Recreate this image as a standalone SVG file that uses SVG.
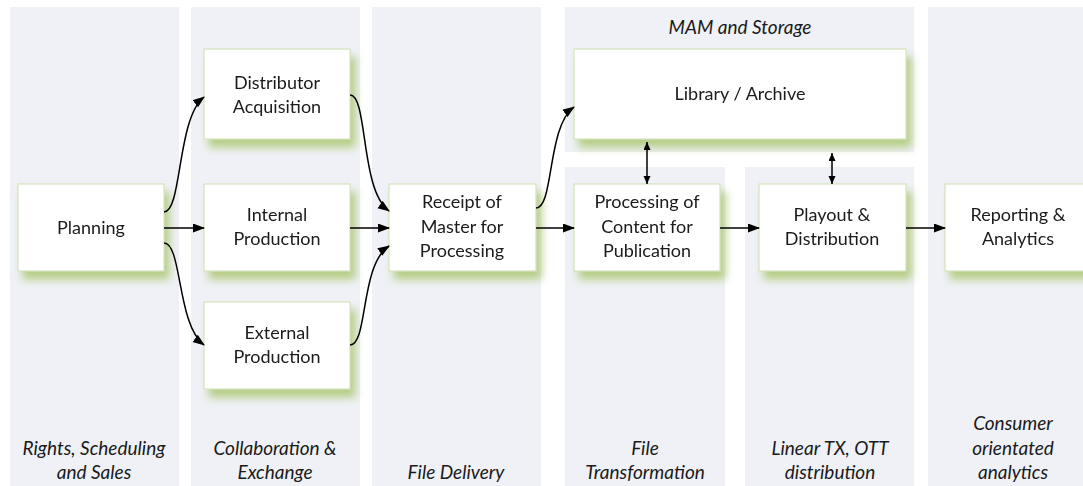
<svg xmlns="http://www.w3.org/2000/svg" width="1083" height="486" viewBox="0 0 1083 486">
<defs>
<style>
.lane{fill:#eff1f6}
.box{fill:#ffffff;stroke:#d6e3bc;stroke-width:1.2}
.t{font-family:Lato,"Open Sans","Liberation Sans",sans-serif;font-size:18px;fill:#1a1a1a;text-anchor:middle}
.lt{font-family:Lato,"Open Sans","Liberation Sans",sans-serif;font-size:19px;font-style:italic;fill:#1a1a1a;text-anchor:middle}
.c{fill:none;stroke:#000;stroke-width:1.5}
</style>
<filter id="sh" x="-20%" y="-20%" width="150%" height="160%">
<feGaussianBlur in="SourceAlpha" stdDeviation="4"/>
<feOffset dx="5" dy="8" result="b"/>
<feFlood flood-color="#b3cc80" flood-opacity="0.95"/>
<feComposite in2="b" operator="in" result="s"/>
<feMerge><feMergeNode in="s"/><feMergeNode in="SourceGraphic"/></feMerge>
</filter>
<marker id="a" markerWidth="12" markerHeight="10" refX="11" refY="4.5" orient="auto" markerUnits="userSpaceOnUse">
<path d="M0,0 L12,4.5 L0,9 z" fill="#000"/>
</marker>
<marker id="d" markerWidth="8" markerHeight="8" refX="8" refY="3.5" orient="auto-start-reverse" markerUnits="userSpaceOnUse">
<path d="M0,0 L8,3.5 L0,7 z" fill="#000"/>
</marker>
</defs>
<rect width="1083" height="486" fill="#ffffff"/>
<g id="lanes">
<rect class="lane" x="10" y="7" width="169" height="479"/>
<rect class="lane" x="191" y="7" width="169" height="479"/>
<rect class="lane" x="372" y="7" width="169" height="479"/>
<rect class="lane" x="565" y="7" width="349" height="145"/>
<rect class="lane" x="565" y="167" width="160" height="319"/>
<rect class="lane" x="745" y="167" width="169" height="319"/>
<rect class="lane" x="928" y="7" width="155" height="479"/>
</g>
<g id="lane-labels">
<text class="lt" x="94" y="455">Rights, Scheduling</text>
<text class="lt" x="94" y="479">and Sales</text>
<text class="lt" x="275" y="455">Collaboration &amp;</text>
<text class="lt" x="275" y="479">Exchange</text>
<text class="lt" x="456" y="479">File Delivery</text>
<text class="lt" x="645" y="455">File</text>
<text class="lt" x="645" y="479">Transformation</text>
<text class="lt" x="830" y="455">Linear TX, OTT</text>
<text class="lt" x="830" y="479">distribution</text>
<text class="lt" x="1013" y="430">Consumer</text>
<text class="lt" x="1013" y="455">orientated</text>
<text class="lt" x="1013" y="479">analytics</text>
<text class="lt" x="740" y="34">MAM and Storage</text>
</g>
<g id="planning" filter="url(#sh)">
<rect class="box" x="18" y="184" width="146" height="87"/>
<text class="t" x="91" y="234">Planning</text>
</g>
<g id="distributor" filter="url(#sh)">
<rect class="box" x="204" y="49" width="146" height="90"/>
<text class="t" x="277" y="89">Distributor</text>
<text class="t" x="277" y="113">Acquisition</text>
</g>
<g id="internal" filter="url(#sh)">
<rect class="box" x="204" y="184" width="146" height="87"/>
<text class="t" x="277" y="221">Internal</text>
<text class="t" x="277" y="245">Production</text>
</g>
<g id="external" filter="url(#sh)">
<rect class="box" x="204" y="302" width="146" height="87"/>
<text class="t" x="277" y="339">External</text>
<text class="t" x="277" y="363">Production</text>
</g>
<g id="receipt" filter="url(#sh)">
<rect class="box" x="389" y="184" width="147" height="87"/>
<text class="t" x="462" y="208">Receipt of</text>
<text class="t" x="462" y="233">Master for</text>
<text class="t" x="462" y="257">Processing</text>
</g>
<g id="library" filter="url(#sh)">
<rect class="box" x="574" y="49" width="332" height="90"/>
<text class="t" x="740" y="100">Library / Archive</text>
</g>
<g id="processing" filter="url(#sh)">
<rect class="box" x="574" y="184" width="146" height="87"/>
<text class="t" x="647" y="208">Processing of</text>
<text class="t" x="647" y="233">Content for</text>
<text class="t" x="647" y="257">Publication</text>
</g>
<g id="playout" filter="url(#sh)">
<rect class="box" x="759" y="184" width="147" height="87"/>
<text class="t" x="832" y="221">Playout &amp;</text>
<text class="t" x="832" y="245">Distribution</text>
</g>
<g id="reporting" filter="url(#sh)">
<rect class="box" x="945" y="184" width="146" height="87"/>
<text class="t" x="1018" y="221">Reporting &amp;</text>
<text class="t" x="1018" y="245">Analytics</text>
</g>
<g id="connectors">
<path class="c" d="M164,212 C182,212 177,118 204,97" marker-end="url(#a)"/>
<path class="c" d="M164,228 L204,228" marker-end="url(#a)"/>
<path class="c" d="M164,243 C182,243 177,325 204,345" marker-end="url(#a)"/>
<path class="c" d="M350,95 C368,95 360,190 389,211" marker-end="url(#a)"/>
<path class="c" d="M350,228 L389,228" marker-end="url(#a)"/>
<path class="c" d="M350,345 C368,345 360,265 389,246" marker-end="url(#a)"/>
<path class="c" d="M536,208 C554,208 547,126 574,107" marker-end="url(#a)"/>
<path class="c" d="M536,228 L574,228" marker-end="url(#a)"/>
<path class="c" d="M720,228 L759,228" marker-end="url(#a)"/>
<path class="c" d="M906,228 L945,228" marker-end="url(#a)"/>
<path class="c" d="M647,142 L647,184" marker-start="url(#d)" marker-end="url(#d)"/>
<path class="c" d="M832,153 L832,184" marker-start="url(#d)" marker-end="url(#d)"/>
</g>
</svg>
